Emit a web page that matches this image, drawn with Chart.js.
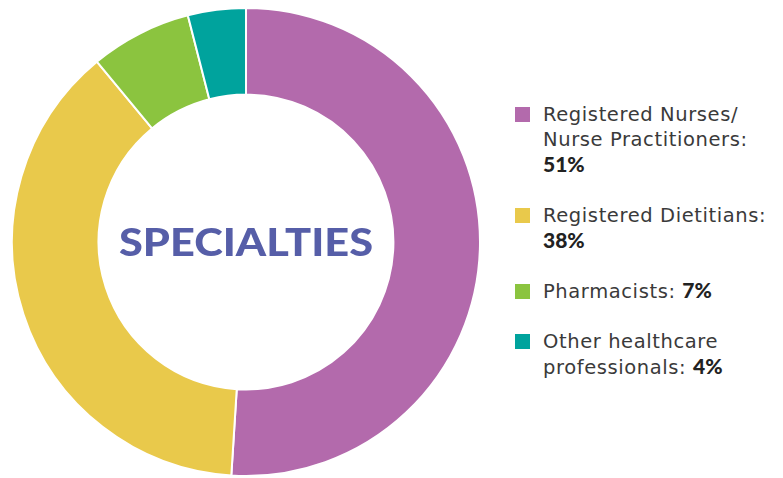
<!DOCTYPE html>
<html>
<head>
<meta charset="utf-8">
<script src="https://cdn.jsdelivr.net/npm/chart.js@4"></script>
<style>
  body { margin: 0; background: #fff; width: 783px; height: 478px; overflow: hidden; position: relative; }
  #wrap { position: absolute; left: 11px; top: 7px; width: 470px; height: 470px; }
  #leyenda { position: absolute; left: 515px; top: 102px; font-family: 'DejaVu Sans', sans-serif; font-size: 19.5px; letter-spacing: 0.6px; color: #3a3a3a; }
  .item { position: relative; padding-left: 28px; line-height: 25.4px; margin-bottom: 25px; white-space: nowrap; }
  .item span.cuadro { position: absolute; left: 0; top: 5px; width: 15px; height: 15px; }
  .item b { font-family: 'Lato', sans-serif; font-weight: 900; font-size: 21px; line-height: 0; letter-spacing: 0; color: #222; }
</style>
</head>
<body>
<div id="wrap"><canvas id="especialidades"></canvas></div>
<div id="leyenda"></div>
<script>
const etiquetas = ['Registered Nurses/<br>Nurse Practitioners:<br>', 'Registered Dietitians:<br>', 'Pharmacists: ', 'Other healthcare<br>professionals: '];
const nombres = ['Registered Nurses/Nurse Practitioners', 'Registered Dietitians', 'Pharmacists', 'Other healthcare professionals'];
const porcentajes = [51, 38, 7, 4];
const colores = ['#B36AAC', '#E9C94B', '#8BC43F', '#00A39D'];

// leyenda hecha a mano en html
const leyenda = document.getElementById('leyenda');
for (let i = 0; i < nombres.length; i++) {
  const div = document.createElement('div');
  div.className = 'item';
  div.innerHTML = '<span class="cuadro" style="background:' + colores[i] + '"></span>' + etiquetas[i] + '<b>' + porcentajes[i] + '%</b>';
  leyenda.appendChild(div);
}

// texto del centro
const textoCentro = {
  id: 'textoCentro',
  afterDraw(chart) {
    const ctx = chart.ctx;
    const meta = chart.getDatasetMeta(0).data[0];
    ctx.save();
    ctx.translate(meta.x, meta.y + 2);
    ctx.scale(1.14, 1);   // la fuente original es mas ancha
    ctx.font = '900 38px Lato';
    ctx.fillStyle = '#565EA8';
    ctx.textAlign = 'center';
    ctx.textBaseline = 'middle';
    ctx.fillText('SPECIALTIES', 0, 0);
    ctx.restore();
  }
};

const ctx = document.getElementById('especialidades').getContext('2d');
new Chart(ctx, {
  type: 'doughnut',
  data: {
    labels: nombres,
    datasets: [{
      data: porcentajes,
      backgroundColor: colores,
      borderColor: '#fff',
      borderWidth: 2
    }]
  },
  options: {
    responsive: true,
    maintainAspectRatio: false,
    cutout: '63%',
    animation: false,
    plugins: {
      legend: { display: false },
      tooltip: { enabled: false }
    }
  },
  plugins: [textoCentro]
});
</script>
</body>
</html>
